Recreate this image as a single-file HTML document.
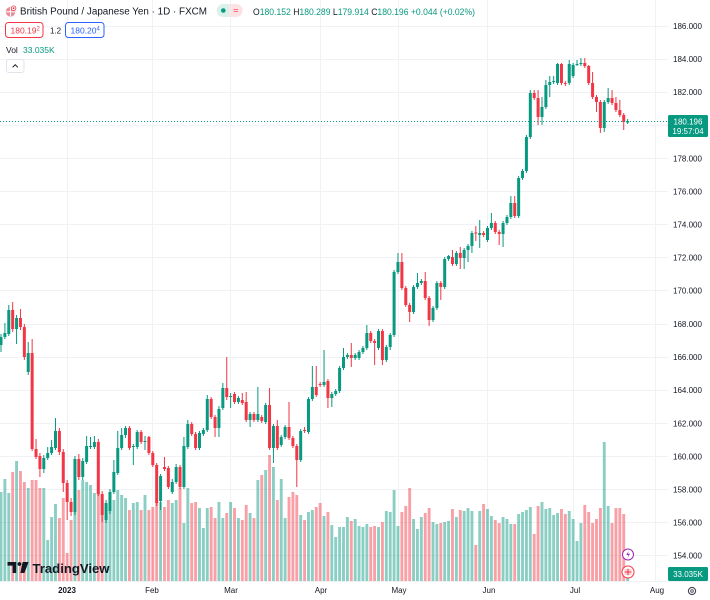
<!DOCTYPE html>
<html><head><meta charset="utf-8">
<style>
html,body{margin:0;padding:0;background:#fff;width:710px;height:600px;overflow:hidden}
svg{display:block}
text{font-family:"Liberation Sans",Arial,sans-serif}
</style></head>
<body>
<svg id="s" width="710" height="600" viewBox="0 0 710 600" xmlns="http://www.w3.org/2000/svg">
<rect width="710" height="600" fill="#ffffff"/>
<!-- horizontal grid -->
<g stroke="#f0f2f6" stroke-width="1">
<line x1="0" x2="668" y1="26.5" y2="26.5"/>
<line x1="0" x2="668" y1="59.5" y2="59.5"/>
<line x1="0" x2="668" y1="92.5" y2="92.5"/>
<line x1="0" x2="668" y1="125.5" y2="125.5"/>
<line x1="0" x2="668" y1="158.5" y2="158.5"/>
<line x1="0" x2="668" y1="191.5" y2="191.5"/>
<line x1="0" x2="668" y1="224.5" y2="224.5"/>
<line x1="0" x2="668" y1="257.5" y2="257.5"/>
<line x1="0" x2="668" y1="290.5" y2="290.5"/>
<line x1="0" x2="668" y1="324.5" y2="324.5"/>
<line x1="0" x2="668" y1="357.5" y2="357.5"/>
<line x1="0" x2="668" y1="390.5" y2="390.5"/>
<line x1="0" x2="668" y1="423.5" y2="423.5"/>
<line x1="0" x2="668" y1="456.5" y2="456.5"/>
<line x1="0" x2="668" y1="489.5" y2="489.5"/>
<line x1="0" x2="668" y1="522.5" y2="522.5"/>
<line x1="0" x2="668" y1="555.5" y2="555.5"/>
</g>
<!-- vertical grid -->
<g stroke="#f0f2f6" stroke-width="1">
<line x1="67.5" x2="67.5" y1="0" y2="581"/>
<line x1="152.5" x2="152.5" y1="0" y2="581"/>
<line x1="230.5" x2="230.5" y1="0" y2="581"/>
<line x1="320.5" x2="320.5" y1="0" y2="581"/>
<line x1="398.5" x2="398.5" y1="0" y2="581"/>
<line x1="487.5" x2="487.5" y1="0" y2="581"/>
<line x1="573.5" x2="573.5" y1="0" y2="581"/>
<line x1="655.5" x2="655.5" y1="0" y2="581"/>
</g>
<line x1="0" x2="710" y1="581.5" y2="581.5" stroke="#eef0f4" stroke-width="1"/>

<g id="vol"></g>
<g id="cdl"></g>

<!-- current price line -->
<line x1="0" x2="668" y1="121.5" y2="121.5" stroke="#089981" stroke-width="1" stroke-dasharray="1 2"/>

<!-- price axis labels -->
<g font-size="8" fill="#131722">
<text x="673" y="29">186.000</text>
<text x="673" y="62">184.000</text>
<text x="673" y="95">182.000</text>
<text x="673" y="161.5">178.000</text>
<text x="673" y="194.5">176.000</text>
<text x="673" y="227.5">174.000</text>
<text x="673" y="260.5">172.000</text>
<text x="673" y="293.5">170.000</text>
<text x="673" y="327">168.000</text>
<text x="673" y="360">166.000</text>
<text x="673" y="393">164.000</text>
<text x="673" y="426.5">162.000</text>
<text x="673" y="459.5">160.000</text>
<text x="673" y="492.5">158.000</text>
<text x="673" y="525.5">156.000</text>
<text x="673" y="558.5">154.000</text>
</g>
<!-- current price box -->
<rect x="668" y="115" width="40" height="22" rx="1.5" fill="#089981"/>
<text x="688" y="124.5" font-size="8" fill="#fff" text-anchor="middle">180.196</text>
<text x="688" y="134" font-size="8" fill="#fff" text-anchor="middle">19:57:04</text>
<!-- volume box -->
<rect x="668" y="567" width="40" height="14" rx="1.5" fill="#089981"/>
<text x="688" y="577" font-size="8" fill="#fff" text-anchor="middle">33.035K</text>

<!-- date axis -->
<g font-size="8" fill="#131722" text-anchor="middle">
<text x="67" y="593" font-weight="bold">2023</text>
<text x="152" y="593">Feb</text>
<text x="231" y="593">Mar</text>
<text x="321" y="593">Apr</text>
<text x="399" y="593">May</text>
<text x="489" y="593">Jun</text>
<text x="575" y="593">Jul</text>
<text x="657" y="593">Aug</text>
</g>
<circle cx="692" cy="591" r="3.6" fill="none" stroke="#434651" stroke-width="1.1"/>
<circle cx="692" cy="591" r="1.3" fill="none" stroke="#434651" stroke-width="0.9"/>

<!-- header -->
<circle cx="10.5" cy="11.8" r="4.8" fill="#e8909b"/>
<line x1="6" y1="11.8" x2="15" y2="11.8" stroke="#fff" stroke-width="1"/>
<line x1="10.5" y1="7.2" x2="10.5" y2="16.4" stroke="#fff" stroke-width="1"/>
<circle cx="13.6" cy="8.2" r="2.3" fill="#fff" stroke="#f23645" stroke-width="0.8"/>
<circle cx="13.6" cy="8.2" r="0.9" fill="#f23645"/>
<text x="20" y="14.5" font-size="10" fill="#131722" textLength="187" lengthAdjust="spacingAndGlyphs">British Pound / Japanese Yen · 1D · FXCM</text>
<path d="M223.2,4 H229.7 V17 H223.2 A6.5,6.5 0 0 1 223.2,4 Z" fill="#daf1ea"/>
<path d="M229.7,4 H236.2 A6.5,6.5 0 0 1 236.2,17 H229.7 Z" fill="#fde2e5"/>
<circle cx="223.3" cy="10.5" r="2.3" fill="#089981"/>
<text x="235.8" y="13.5" font-size="9" fill="#f23645" text-anchor="middle">≈</text>
<text x="253" y="15" font-size="9" fill="#089981" textLength="222" lengthAdjust="spacingAndGlyphs"><tspan fill="#131722">O</tspan>180.152 <tspan fill="#131722">H</tspan>180.289 <tspan fill="#131722">L</tspan>179.914 <tspan fill="#131722">C</tspan>180.196 +0.044 (+0.02%)</text>

<rect x="5.5" y="22.5" width="37.5" height="15" rx="3" fill="#fff" stroke="#f23645" stroke-width="1"/>
<text x="10.5" y="33.3" font-size="8.5" fill="#f23645">180.19<tspan font-size="6" dy="-3">2</tspan></text>
<text x="50" y="33.3" font-size="8" fill="#131722">1.2</text>
<rect x="65.5" y="22.5" width="38.5" height="15" rx="3" fill="#fff" stroke="#2962ff" stroke-width="1"/>
<text x="70.5" y="33.3" font-size="8.5" fill="#2962ff">180.20<tspan font-size="6" dy="-3">4</tspan></text>

<text x="6" y="53" font-size="8.5" fill="#131722">Vol</text>
<text x="23" y="53" font-size="8.5" fill="#089981">33.035K</text>

<rect x="6.5" y="59.5" width="17.5" height="13" rx="2.5" fill="#fff" stroke="#e0e3eb" stroke-width="1"/>
<path d="M12.6,67.3 L15.2,64.7 L17.8,67.3" fill="none" stroke="#131722" stroke-width="1"/>

<!-- TradingView logo -->
<path d="M7.5,562 H16.2 V573 H12.6 V565.6 H7.5 Z" fill="#131722"/>
<circle cx="19.4" cy="564" r="1.9" fill="#131722"/>
<path d="M22.6,562 H28.6 L24.4,573 H20.4 Z" fill="#131722"/>
<text x="32.5" y="573" font-size="13" font-weight="bold" fill="#131722" textLength="77" lengthAdjust="spacingAndGlyphs">TradingView</text>

<!-- bottom-right icons -->
<circle cx="628" cy="554.5" r="5.5" fill="#fff" stroke="#9c27b0" stroke-width="1"/>
<path d="M628.8,550.8 L626.3,555 H628.5 L627.3,558.3 L630,553.8 H627.9 Z" fill="#9c27b0"/>
<circle cx="628" cy="572" r="6" fill="#fff" stroke="#f23645" stroke-width="1"/>
<rect x="624.5" y="568.8" width="7" height="6.4" fill="#fbd3d7"/>
<line x1="628" y1="568.8" x2="628" y2="575.2" stroke="#f23645" stroke-width="1"/>
<line x1="624.5" y1="572" x2="631.5" y2="572" stroke="#f23645" stroke-width="1"/>

</svg>
<script>
(function(){
var D=[
[345,337,334,352],[337,333,323,339],[334,310,305,336],[310,329,302,332],[329,318,315,344],[318,327,309,330],[327,357,324,360],[372,353,342,375],[353,449,339,451],[449,457,439,459],
[456,469,453,477],[469,458,455,473],[458,453,447,460],[453,447,440,455],[448,431,418,450],[431,452,428,455],[452,483,449,492],[483,502,480,520],[502,512,498,516],[512,459,456,515],
[459,477,454,480],[477,461,458,480],[462,446,436,464],[447,446,437,449],[447,442,436,449],[442,494,439,496],[494,515,491,522],[520,503,500,523],[511,492,489,514],[492,472,460,494],
[473,448,431,475],[448,435,428,450],[435,428,426,438],[428,448,426,450],[447,446,444,465],[447,432,430,449],[432,442,430,444],[442,441,436,450],[437,453,436,455],[453,465,451,467],
[465,503,463,506],[501,476,474,510],[467,469,457,471],[468,487,466,489],[492,482,479,494],[482,467,464,484],[467,487,465,489],[487,446,437,489],[447,424,420,449],[424,434,422,436],
[434,448,432,450],[448,433,431,450],[434,430,428,436],[430,399,395,432],[399,417,397,419],[417,428,415,437],[428,409,406,437],[408,388,383,410],[388,397,357,400],[397,396,393,408],
[394,402,392,404],[402,398,396,404],[400,403,393,405],[402,420,392,422],[420,414,412,427],[414,420,412,422],[420,414,387,422],[417,421,415,423],[422,405,403,424],[405,448,388,450],
[448,426,424,463],[426,448,420,450],[445,437,435,447],[437,427,425,439],[427,438,402,440],[438,446,436,448],[446,460,444,487],[460,431,429,462],[430,431,427,433],[432,399,397,434],
[399,387,366,401],[387,395,366,397],[384,385,382,387],[385,382,350,387],[381,398,379,408],[398,394,392,407],[394,391,389,396],[391,368,366,393],[368,357,348,370],[357,355,353,359],
[355,358,343,367],[358,355,353,360],[358,352,350,360],[352,348,346,354],[348,333,325,350],[333,341,331,343],[341,343,339,365],[348,331,329,350],[331,360,329,365],[360,347,345,362],
[347,335,333,350],[335,272,270,337],[272,262,253,274],[262,288,253,290],[288,305,286,307],[305,312,303,322],[312,287,285,314],[287,283,273,289],[283,281,279,285],[281,298,272,300],
[298,320,296,326],[320,308,306,322],[308,283,281,310],[283,287,281,300],[287,259,257,289],[259,256,255,261],[257,264,250,266],[264,253,251,266],[253,258,247,269],[258,250,248,269],
[250,246,244,262],[246,233,231,253],[232.5,233.5,226,241],[235,233,220,248],[233,235,231,237],[240,228,226,242],[228,223,213,230],[223,232,221,234],[232,234,230,245],[234,223,221,247],
[223,217,215,225],[217,203,196,219],[203,216,196,218],[216,178,176,218],[178,171,169,180],[171,137,135,173],[137,93,90,139],[93,98,90,100],[98,117,90,125],[117,107,97,125],
[107,85,80,109],[85,82,76,97],[82,81,76,84],[83,64,63,85],[64,83,63,85],[83,84,81,86],[83,64,60,85],[76,65,63,78],[65,64,60,66],[64,63,58,66],
[63,66,58,68],[66,83,65,85],[83,97,72,99],[97,102,95,112],[102,128,100,133],[128,102,100,132],[102,98,88,104],[98,103,90,105],[103,110,97,112],[110,115,100,117],
[115,122,113,130],[122.5,121,119,124]
];
var V=[492,479,493,472,461,471,482,488,480,480,
488,488,540,517,504,518,498,553,520,478,
490,480,482,485,493,493,500,515,502,500,
490,495,498,510,503,502,510,495,510,507,
502,502,507,500,503,500,488,523,488,503,
502,508,528,508,507,518,502,518,513,502,
508,518,520,505,513,518,480,475,470,455,
467,500,479,518,497,492,495,515,520,512,
510,507,503,516,512,525,537,527,527,517,
521,519,526,527,524,527,526,527,522,511,
512,490,526,512,506,488,519,529,517,513,
508,522,524,523,522,521,509,517,510,511,
508,511,545,511,504,509,516,520,523,517,
519,524,524,514,512,510,507,534,506,502,
509,508,515,513,509,514,511,519,541,523,
505,512,523,519,508,442,506,523,508,508,
514,576];
var G='#089981',R='#f23645',vs='',cs='';
for(var k=0;k<D.length;k++){
  var d=D[k],o=d[0],c=d[1],h=d[2],l=d[3];
  var x=1+3.892*k;
  var col=(c<o)?G:R;
  var v=V[k]||575;
  vs+='<rect x="'+(x-1.45).toFixed(2)+'" y="'+v+'" width="2.9" height="'+(581-v)+'" fill="'+col+'" fill-opacity="0.47"/>';
  var top=Math.min(o,c),bot=Math.max(o,c);
  cs+='<rect x="'+(x-0.5).toFixed(2)+'" y="'+h+'" width="1" height="'+(l-h)+'" fill="'+col+'"/>';
  cs+='<rect x="'+(x-1.5).toFixed(2)+'" y="'+top+'" width="3" height="'+Math.max(1,bot-top)+'" fill="'+col+'"/>';
}
document.getElementById('vol').innerHTML=vs;
document.getElementById('cdl').innerHTML=cs;
})();
</script>
</body></html>
